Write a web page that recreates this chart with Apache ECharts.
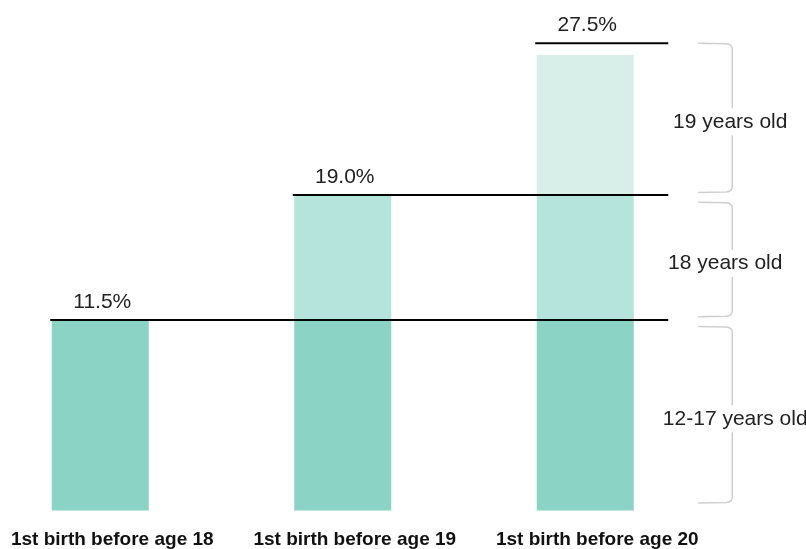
<!DOCTYPE html>
<html>
<head>
<meta charset="utf-8">
<script src="https://cdn.jsdelivr.net/npm/echarts@6/dist/echarts.min.js"></script>
<style>html,body{margin:0;padding:0;background:#fff;}#c{width:806px;height:549px;}</style>
</head>
<body>
<div id="c"></div>
<script>
const categories = ['1st birth before age 18', '1st birth before age 19', '1st birth before age 20'];
const age1217 = [11.5, 11.5, 11.5];
const age18 = [null, 7.5, 7.5];
const age19 = [null, null, 8.5];
const totals = [11.5, 19.0, 27.5];
const lineLevels = [11.5, 19.05, 28.2];
const bracketLabels = ['12-17 years old', '18 years old', '19 years old'];
const bracketRanges = [[0.45, 11.1], [11.7, 18.6], [19.2, 28.2]];

const FONT = '"Liberation Sans", Arial, sans-serif';
const chart = echarts.init(document.getElementById('c'));

const lineData = totals.map((t, i) => [i, lineLevels[i], t]);
const bracketData = bracketRanges.map((r, i) => [categories.length - 1, r[0], r[1], i]);
const labelDx = [3, -7, -2];

chart.setOption({
  animation: false,
  grid: { left: -21, right: 99.5, top: 13.5, bottom: 38.5, containLabel: false, outerBoundsMode: 'none' },
  xAxis: {
    type: 'category',
    data: categories,
    axisLine: { show: false },
    axisTick: { show: false },
    axisLabel: {
      fontFamily: FONT, fontWeight: 'bold', fontSize: 19, color: '#111',
      margin: 20, padding: [0, 0, 0, 24], interval: 0, hideOverlap: false
    }
  },
  yAxis: { type: 'value', min: 0, max: 30, show: false, splitLine: { show: false } },
  series: [
    { name: '12-17', type: 'bar', stack: 'a', data: age1217, barWidth: 97, itemStyle: { color: '#8ad3c5' }, silent: true },
    { name: '18', type: 'bar', stack: 'a', data: age18, barWidth: 97, itemStyle: { color: '#b5e4dd' }, silent: true },
    { name: '19', type: 'bar', stack: 'a', data: age19, barWidth: 97, itemStyle: { color: '#d8eee9' }, silent: true },
    {
      type: 'custom', silent: true, z: 5,
      data: lineData,
      encode: { x: 0, y: 1 },
      renderItem: function (params, api) {
        const i = api.value(0);
        const p = api.coord([i, api.value(1)]);
        const xEnd = api.coord([categories.length - 1, 0])[0] + 83;
        const x0 = p[0] - 50;
        return {
          type: 'group',
          children: [
            { type: 'line', shape: { x1: x0, y1: p[1], x2: xEnd, y2: p[1] }, style: { stroke: '#000', lineWidth: 2 } },
            { type: 'text', style: { x: p[0] + 2, y: p[1] - 18, text: api.value(2).toFixed(1) + '%', align: 'center', verticalAlign: 'middle', font: '21px ' + FONT, fill: '#222' } }
          ]
        };
      }
    },
    {
      type: 'custom', silent: true, z: 6,
      data: bracketData,
      encode: { x: 0, y: [1, 2] },
      renderItem: function (params, api) {
        const cx = api.coord([api.value(0), 0])[0];
        const yb = api.coord([api.value(0), api.value(1)])[1];
        const yt = api.coord([api.value(0), api.value(2)])[1];
        const idx = api.value(3);
        const xl = cx + 113, xv = cx + 147;
        const d = 'M' + xl + ' ' + yt + ' L' + (xv - 6) + ' ' + (yt + 0.5) + ' Q' + xv + ' ' + (yt + 1) + ' ' + xv + ' ' + (yt + 6) +
          ' L' + xv + ' ' + (yb - 6) + ' Q' + xv + ' ' + (yb - 1) + ' ' + (xv - 6) + ' ' + (yb - 0.5) + ' L' + xl + ' ' + yb;
        return {
          type: 'group',
          children: [
            { type: 'path', shape: { pathData: d }, style: { stroke: '#cfcfcf', lineWidth: 1.5, fill: null } },
            { type: 'text', z2: 10, style: { x: xv + labelDx[idx], y: (yt + yb) / 2 + 4, text: bracketLabels[idx], align: 'center', verticalAlign: 'middle', font: '21px ' + FONT, fill: '#222', backgroundColor: '#fff', padding: [3, 2] } }
          ]
        };
      }
    }
  ]
});
</script>
</body>
</html>
